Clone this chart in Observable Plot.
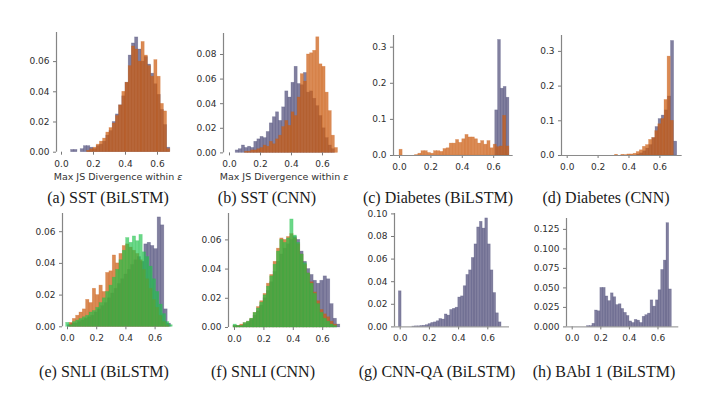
<!DOCTYPE html>
<html><head><meta charset="utf-8">
<script src="https://cdn.jsdelivr.net/npm/d3@7"></script>
<script src="https://cdn.jsdelivr.net/npm/@observablehq/plot@0.6"></script>
<style>
body{margin:0;background:#fff;}
#fig{position:relative;width:716px;height:398px;background:#fff;overflow:hidden;}
.cap{position:absolute;font-family:"Liberation Serif","Times New Roman",serif;font-size:16px;color:#1a1a1a;white-space:nowrap;transform:translate(-50%,-50%);}
.xl{position:absolute;font-family:"DejaVu Sans",sans-serif;font-size:9.5px;color:#333;white-space:nowrap;transform:translate(-50%,-50%);}
</style></head><body><div id="fig"></div>
<script>
// ---------- tick labels / text ----------
const xTicks = [0, 0.2, 0.4, 0.6];
const yTicksA = [0, 0.02, 0.04, 0.06];
const yTicksB = [0, 0.02, 0.04, 0.06, 0.08];
const yTicksC = [0, 0.1, 0.2, 0.3];
const yTicksD = [0, 0.1, 0.2, 0.3];
const yTicksE = [0, 0.02, 0.04, 0.06];
const yTicksF = [0, 0.02, 0.04, 0.06];
const yTicksG = [0, 0.02, 0.04, 0.06, 0.08, 0.10];
const yTicksH = [0, 0.025, 0.05, 0.075, 0.1, 0.125];
const captions = ["(a) SST (BiLSTM)", "(b) SST (CNN)", "(c) Diabetes (BiLSTM)", "(d) Diabetes (CNN)",
                  "(e) SNLI (BiLSTM)", "(f) SNLI (CNN)", "(g) CNN-QA (BiLSTM)", "(h) BAbI 1 (BiLSTM)"];
const xAxisLabel = "Max JS Divergence within ";

// ---------- histogram series: [first bin edge, bin width] and bin heights ----------
const aPurpleBins = [0.06, 0.02];
const aPurple = [0.0015,0.0015,0,0.002,0.004,0.004,0.003,0.002,0.004,0.005,0.007,0.011,0.014,0.020,0.025,0.031,0.037,0.046,0.064,0.072,0.076,0.068,0.060,0.063,0.058,0.052,0.045,0.038,0.028,0.018,0.003];
const aOrangeBins = [0.16, 0.02];
const aOrange = [0.001,0.002,0.003,0.005,0.007,0.009,0.013,0.016,0.019,0.024,0.031,0.040,0.046,0.057,0.070,0.068,0.060,0.073,0.064,0.057,0.050,0.061,0.050,0.032,0.027,0.002];

const bPurpleBins = [0.04, 0.02];
const bPurple = [0.002,0.003,0.006,0.004,0.005,0.004,0.009,0.011,0.013,0.012,0.017,0.024,0.029,0.033,0.026,0.037,0.050,0.045,0.057,0.070,0.056,0.055,0.065,0.049,0.050,0.044,0.038,0.030,0.020,0.012,0.006,0.003];
const bOrangeBins = [0.10, 0.02];
const bOrange = [0.001,0.001,0.002,0.002,0.003,0.004,0.006,0.005,0.009,0.007,0.011,0.014,0.021,0.026,0.022,0.033,0.030,0.045,0.064,0.058,0.080,0.081,0.083,0.094,0.072,0.070,0.049,0.034,0.014,0.004];

const cPurpleBins = [0.61, 0.018];
const cPurple = [0.125,0.32,0.185,0.19,0.16];
const cOrangeBins = [0.0, 0.02];
const cOrange = [0.016,0,0,0,0,0.001,0.005,0.012,0.012,0.007,0.005,0.012,0.012,0.010,0.018,0.020,0.033,0.033,0.043,0.035,0.045,0.057,0.050,0.050,0.045,0.033,0.040,0.030,0.040,0.020,0.030,0.023,0.025,0.110,0.025];

const dPurpleBins = [0.452, 0.02];
const dPurple = [0.003,0.006,0.012,0.02,0.03,0.05,0.082,0.105,0.115,0.13,0.17,0.33,0.04];
const dOrangeBins = [0.29, 0.02];
const dOrange = [0,0.002,0,0.002,0.001,0.003,0.003,0.005,0.01,0.015,0.025,0.03,0.045,0.05,0.07,0.09,0.105,0.16,0.285,0.10];

const ePurpleBins = [0.002, 0.0228];
const ePurple = [0.001,0.002,0.002,0.003,0.004,0.005,0.006,0.007,0.009,0.011,0.013,0.015,0.018,0.021,0.024,0.027,0.030,0.033,0.036,0.039,0.042,0.044,0.041,0.052,0.053,0.051,0.049,0.069,0.064,0.011,0.002];
const eOrangeBins = [0.0135, 0.0228];
const eOrange = [0.0025,0.005,0.007,0.009,0.011,0.017,0.015,0.024,0.020,0.026,0.022,0.034,0.035,0.045,0.040,0.046,0.051,0.052,0.050,0.048,0.046,0.042,0.036,0.030,0.024,0.017,0.012,0.007,0.003,0.001];
const eGreenBins = [-0.009, 0.0228];
const eGreen = [0.0025,0.001,0.003,0.004,0.005,0.006,0.007,0.009,0.010,0.012,0.015,0.018,0.022,0.026,0.031,0.036,0.042,0.048,0.056,0.053,0.057,0.054,0.058,0.047,0.044,0.038,0.030,0.022,0.014,0.008,0.003,0.001];

const fPurpleBins = [-0.0066, 0.0227];
const fPurple = [0.001,0.001,0.001,0.002,0.003,0.005,0.008,0.011,0.015,0.020,0.025,0.031,0.038,0.045,0.050,0.054,0.057,0.060,0.062,0.060,0.052,0.045,0.040,0.036,0.032,0.030,0.032,0.035,0.033,0.016,0.006,0.002];
const fOrangeBins = [-0.0066, 0.0227];
const fOrange = [0.001,0.001,0.002,0.003,0.004,0.006,0.010,0.014,0.018,0.023,0.030,0.036,0.045,0.054,0.061,0.060,0.062,0.064,0.061,0.057,0.050,0.043,0.037,0.031,0.024,0.018,0.012,0.009,0.007,0.004,0.002];
const fGreenBins = [-0.0066, 0.0227];
const fGreen = [0.002,0.001,0.001,0.003,0.004,0.006,0.010,0.013,0.017,0.022,0.028,0.035,0.043,0.052,0.060,0.058,0.061,0.074,0.063,0.058,0.050,0.044,0.037,0.030,0.023,0.016,0.010,0.006,0.004,0.002,0.001];

const gPurpleBins = [-0.009, 0.0185];
const gPurple = [0.0315,0,0,0,0,0.0003,0.0005,0.0005,0.0008,0.001,0.0015,0.0025,0.0035,0.004,0.005,0.007,0.0065,0.011,0.010,0.015,0.016,0.017,0.026,0.027,0.036,0.046,0.050,0.061,0.073,0.088,0.093,0.087,0.096,0.073,0.050,0.030,0.012,0.004];

const hPurpleBins = [0.1045, 0.0185];
const hPurple = [0.001,0.001,0.004,0.021,0.020,0.050,0.050,0.039,0.033,0.043,0.038,0.028,0.029,0.023,0.018,0.014,0.007,0.005,0.009,0.008,0.005,0.013,0.015,0.017,0.034,0.026,0.034,0.047,0.073,0.085,0.133,0.048];

// ---------- styles ----------
const PURPLE = "#3d3b6c", ORANGE = "#cc5d12", GREEN = "#1fc24a";
const OP = {purple: 0.65, orange: 0.72, green: 0.66};

// ---------- layout (pixel geometry of each panel) ----------
const panels = [
  {axisX:55.7, x0:60.7, kx:160, xEnd:179, top:32, y0:151.7, ky:1510, yTicks:yTicksA, fmt:".2f", bottom:false,
   series:[[aPurpleBins,aPurple,PURPLE,OP.purple],[aOrangeBins,aOrange,ORANGE,OP.orange]]},
  {axisX:223.3, x0:229.3, kx:155, xEnd:344, top:33.3, y0:152.7, ky:1230, yTicks:yTicksB, fmt:".2f", bottom:false,
   series:[[bPurpleBins,bPurple,PURPLE,OP.purple],[bOrangeBins,bOrange,ORANGE,OP.orange]]},
  {axisX:393.3, x0:399.3, kx:157, xEnd:513, top:35, y0:155, ky:361, yTicks:yTicksC, fmt:".1f", bottom:true,
   series:[[cPurpleBins,cPurple,PURPLE,OP.purple],[cOrangeBins,cOrange,ORANGE,OP.orange]]},
  {axisX:561, x0:566.7, kx:154.5, xEnd:681.7, top:35, y0:155, ky:347, yTicks:yTicksD, fmt:".1f", bottom:true,
   series:[[dPurpleBins,dPurple,PURPLE,OP.purple],[dOrangeBins,dOrange,ORANGE,OP.orange]]},
  {axisX:61.7, x0:66.7, kx:146, xEnd:174.7, top:212.7, y0:326, ky:1585, yTicks:yTicksE, fmt:".2f", bottom:false,
   series:[[ePurpleBins,ePurple,PURPLE,OP.purple],[eOrangeBins,eOrange,ORANGE,OP.orange],[eGreenBins,eGreen,GREEN,OP.green]]},
  {axisX:228.3, x0:234.3, kx:147, xEnd:343, top:212.7, y0:326.7, ky:1460, yTicks:yTicksF, fmt:".2f", bottom:false,
   series:[[fPurpleBins,fPurple,PURPLE,OP.purple],[fOrangeBins,fOrange,ORANGE,OP.orange],[fGreenBins,fGreen,GREEN,OP.green]]},
  {axisX:394.3, x0:400, kx:146, xEnd:509.3, top:213.3, y0:326.7, ky:1130, yTicks:yTicksG, fmt:".2f", bottom:true,
   series:[[gPurpleBins,gPurple,PURPLE,OP.purple]]},
  {axisX:566, x0:571.7, kx:143, xEnd:678.3, top:218.3, y0:326.7, ky:780, yTicks:yTicksH, fmt:".3f", bottom:true,
   series:[[hPurpleBins,hPurple,PURPLE,OP.purple]]}
];
const capPos = [[108,198],[267,198],[438,198],[606,198],[104,372],[263,372],[437,372],[604,372]];
const xlPos = [[118,175.5],[284,175.7]];

function bins(first, width, heights) {
  return heights.map((h, i) => ({x1: first + i * width, x2: first + (i + 1) * width, y: h}));
}

const fig = document.getElementById("fig");
const mL = 44, mR = 6, mT = 6, mB = 22;
panels.forEach((p) => {
  const xmin = (p.axisX - p.x0) / p.kx, xmax = (p.xEnd - p.x0) / p.kx;
  const ymax = (p.y0 - p.top) / p.ky;
  const w = mL + (p.xEnd - p.axisX) + mR, h = mT + (p.y0 - p.top) + mB;
  const marks = p.series.map(([b, v, c, o]) =>
    Plot.rect(bins(b[0], b[1], v), {x1: "x1", x2: "x2", y1: 0, y2: "y", fill: c, fillOpacity: o,
      stroke: c, strokeOpacity: 0.35, strokeWidth: 0.6, inset: 0}));
  marks.push(Plot.axisY({ticks: p.yTicks, tickFormat: d3.format(p.fmt), tickSize: 3, tickPadding: 4,
    label: null, stroke: "#777", fill: "#2e2e2e"}));
  marks.push(Plot.axisX({ticks: xTicks, tickFormat: d3.format(".1f"), tickSize: 3, tickPadding: 5,
    label: null, stroke: "#777", fill: "#2e2e2e"}));
  marks.push(Plot.ruleX([xmin], {stroke: "#858585", strokeWidth: 1.2}));
  if (p.bottom) marks.push(Plot.ruleY([0], {stroke: "#8a8a8a", strokeWidth: 1}));
  const svg = Plot.plot({
    width: w, height: h, marginLeft: mL, marginRight: mR, marginTop: mT, marginBottom: mB,
    x: {domain: [xmin, xmax]}, y: {domain: [0, ymax]},
    style: {fontFamily: "DejaVu Sans", fontSize: "9px", color: "#333", background: "transparent", overflow: "visible"},
    marks
  });
  svg.style.position = "absolute";
  svg.style.left = (p.axisX - mL) + "px";
  svg.style.top = (p.top - mT) + "px";
  svg.style.maxWidth = "none";
  fig.appendChild(svg);
});

captions.forEach((t, i) => {
  const d = document.createElement("div");
  d.className = "cap"; d.textContent = t;
  d.style.left = capPos[i][0] + "px"; d.style.top = capPos[i][1] + "px";
  fig.appendChild(d);
});
xlPos.forEach(([x, y]) => {
  const d = document.createElement("div");
  d.className = "xl";
  d.textContent = xAxisLabel;
  const e = document.createElement("i"); e.textContent = "ε"; d.appendChild(e);
  d.style.left = x + "px"; d.style.top = y + "px";
  fig.appendChild(d);
});
</script></body></html>
